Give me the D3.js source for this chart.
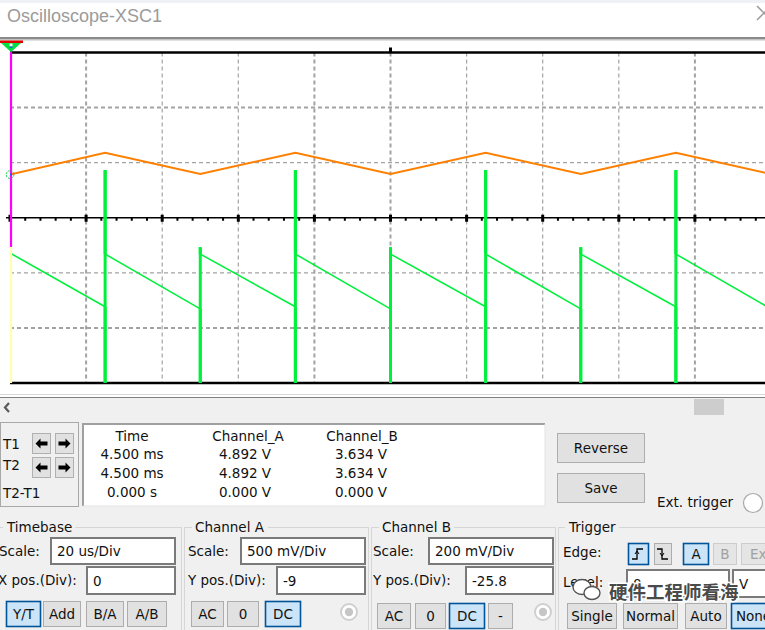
<!DOCTYPE html>
<html>
<head>
<meta charset="utf-8">
<script src="https://cdn.jsdelivr.net/npm/d3@7"></script>
<style>
  body { margin: 0; background: #fff; }
  svg { display: block; }
  text { font-family: "DejaVu Sans", sans-serif; font-size: 13.5px; fill: #111; }
</style>
</head>
<body>
<div id="scope"></div>
<script>
// channel A (orange triangle), time in us, volts
const chATime = [0, 25, 50, 75, 100, 125, 150, 175, 200];
const chAVolt = [4.892, 5.090, 4.897, 5.090, 4.897, 5.090, 4.897, 5.090, 4.897];

// channel B (green sawtooth with edge spikes)
const chBTime = [0,
  25, 25, 25, 25,
  50, 50, 50, 50,
  75, 75, 75, 75,
  100, 100, 100, 100,
  125, 125, 125, 125,
  150, 150, 150, 150,
  175, 175, 175, 175,
  200];
const chBVolt = [5.032,
  4.837, 4.40, 5.333, 5.028,
  4.829, 4.40, 5.053, 5.028,
  4.837, 4.40, 5.333, 5.028,
  4.829, 4.40, 5.053, 5.028,
  4.837, 4.40, 5.333, 5.028,
  4.829, 4.40, 5.053, 5.028,
  4.837, 4.40, 5.333, 5.028,
  4.829];

// readout table
const readHeaders = ["Time", "Channel_A", "Channel_B"];
const readRows = [
  ["4.500 ms", "4.892 V", "3.634 V"],
  ["4.500 ms", "4.892 V", "3.634 V"],
  ["0.000 s", "0.000 V", "0.000 V"]
];
const cursorLabels = ["T1", "T2", "T2-T1"];

// control settings
const timebaseScale = "20 us/Div";
const timebaseXPos = "0";
const chAScale = "500 mV/Div";
const chAYPos = "-9";
const chBScale = "200 mV/Div";
const chBYPos = "-25.8";
const trigLevel = "0";
const trigUnit = "V";

const W = 765, H = 630;
const svg = d3.select('#scope').append('svg')
  .attr('width', W).attr('height', H);

// ---------- title bar ----------
svg.append('rect').attr('width', W).attr('height', 3).attr('fill', '#eef1f5');
svg.append('text').attr('x', 7).attr('y', 22)
  .style('font-family', '"Liberation Sans", sans-serif').style('font-size', '18px')
  .style('fill', '#9b9b9b').text('Oscilloscope-XSC1');
svg.append('path').attr('d', 'M757,6 L771,20 M757,20 L771,6')
  .attr('stroke', '#9a9a9a').attr('stroke-width', 1.5);
svg.append('rect').attr('x', 0).attr('y', 37).attr('width', W).attr('height', 2).attr('fill', '#8a8a8a');
svg.append('rect').attr('x', 0).attr('y', 39).attr('width', W).attr('height', 1.5).attr('fill', '#c4c4c4');

// ---------- scope screen ----------
const x = d3.scaleLinear().domain([0, 200]).range([10, 771]);
const yA = d3.scaleLinear().domain([3.0, 6.0]).range([383, 52.5]);
const yB = d3.scaleLinear().domain([4.56, 5.76]).range([383, 52.5]);

const scr = svg.append('g');
scr.append('defs').append('clipPath').attr('id', 'clip')
  .append('rect').attr('x', 10).attr('y', 52.5).attr('width', 761).attr('height', 330.5);

const thickCols = [20, 80, 100, 180];
x.ticks(10).filter(t => t > 0).forEach(t => {
  scr.append('line')
    .attr('x1', x(t)).attr('x2', x(t)).attr('y1', 52.5).attr('y2', 383)
    .attr('stroke', '#a3a3a3')
    .attr('stroke-width', thickCols.includes(t) ? 2 : 1.2)
    .attr('stroke-dasharray', '4,3');
});
const thickRows = [5.5, 3.5];
yA.ticks(6).filter(v => v > 3 && v < 6 && v !== 4.5).forEach(v => {
  scr.append('line')
    .attr('x1', 10).attr('x2', W).attr('y1', yA(v)).attr('y2', yA(v))
    .attr('stroke', '#a3a3a3')
    .attr('stroke-width', thickRows.includes(v) ? 2 : 1.2)
    .attr('stroke-dasharray', '4,3');
});

// frame and center axis
scr.append('line').attr('x1', 10).attr('x2', W).attr('y1', 52.5).attr('y2', 52.5)
  .attr('stroke', '#000').attr('stroke-width', 2.5);
scr.append('line').attr('x1', 10).attr('x2', W).attr('y1', 383).attr('y2', 383)
  .attr('stroke', '#000').attr('stroke-width', 2.5);
scr.append('line').attr('x1', 6).attr('x2', W).attr('y1', yA(4.5)).attr('y2', yA(4.5))
  .attr('stroke', '#000').attr('stroke-width', 1.6);
scr.append('rect').attr('x', x(100) - 1.5).attr('y', 47.5).attr('width', 3).attr('height', 5).attr('fill', '#000');

d3.range(0, 201, 4).forEach(t => {
  const major = t % 20 === 0;
  scr.append('rect')
    .attr('x', x(t) - (major ? 1.5 : 1))
    .attr('y', major ? yA(4.5) - 3 : yA(4.5))
    .attr('width', major ? 3 : 2)
    .attr('height', major ? 7 : 3)
    .attr('fill', '#000');
});

// traces
const plot = scr.append('g').attr('clip-path', 'url(#clip)');
const ptsA = chATime.map((t, i) => [x(t), yA(chAVolt[i])]);
plot.append('path').attr('d', d3.line()(ptsA))
  .attr('fill', 'none').attr('stroke', '#ff8000').attr('stroke-width', 2);

const ptsB = chBTime.map((t, i) => [x(t), yB(chBVolt[i])]);
plot.append('path').attr('d', d3.line()(ptsB))
  .attr('fill', 'none').attr('stroke', '#00f03c').attr('stroke-width', 1.6);
// vertical edges drawn heavier
ptsB.forEach((p, i) => {
  if (i > 0 && chBTime[i] === chBTime[i - 1]) {
    plot.append('line')
      .attr('x1', p[0]).attr('x2', p[0]).attr('y1', ptsB[i - 1][1]).attr('y2', p[1])
      .attr('stroke', '#00f03c').attr('stroke-width', 3);
  }
});

// cursors and markers
scr.append('line').attr('x1', 11).attr('x2', 11).attr('y1', 52).attr('y2', 247)
  .attr('stroke', '#ff00ff').attr('stroke-width', 2.2);
scr.append('line').attr('x1', 11).attr('x2', 11).attr('y1', 247).attr('y2', 383)
  .attr('stroke', '#ffffb0').attr('stroke-width', 2.2);
scr.append('rect').attr('x', 0).attr('y', 40.5).attr('width', 23).attr('height', 2.5).attr('fill', '#e00000');
scr.append('path').attr('d', 'M1,43 L21,43 L11,52 Z').attr('fill', '#00e040');
scr.append('rect').attr('x', 9.5).attr('y', 43.5).attr('width', 3).attr('height', 3).attr('fill', '#fff');
scr.append('rect').attr('x', 9.5).attr('y', 46.5).attr('width', 3).attr('height', 1.2).attr('fill', '#2040ff');
scr.append('circle').attr('cx', 10).attr('cy', yA(chAVolt[0])).attr('r', 3.8)
  .attr('fill', 'none').attr('stroke', '#00d040').attr('stroke-width', 1).attr('stroke-dasharray', '2,1');
scr.append('rect').attr('x', 10).attr('y', yA(chAVolt[0]) - 1).attr('width', 2).attr('height', 2).attr('fill', '#2060ff');

// ---------- lower panel ----------
svg.append('line').attr('x1', 0).attr('x2', W).attr('y1', 394.5).attr('y2', 394.5)
  .attr('stroke', '#d8d8d8');
svg.append('rect').attr('x', 0).attr('y', 397).attr('width', W).attr('height', H - 397).attr('fill', '#f0f0f0');
svg.append('line').attr('x1', 0).attr('x2', W).attr('y1', 397.5).attr('y2', 397.5)
  .attr('stroke', '#808080');
svg.append('path').attr('d', 'M9,403 L5,407.5 L9,412').attr('fill', 'none')
  .attr('stroke', '#5a5a5a').attr('stroke-width', 2.2);
svg.append('rect').attr('x', 694).attr('y', 399).attr('width', 30).attr('height', 16).attr('fill', '#cdcdcd');

// cursor panel
svg.append('rect').attr('x', 0.5).attr('y', 422.5).attr('width', 78).attr('height', 84)
  .attr('fill', 'none').attr('stroke', '#a8a8a8');
cursorLabels.forEach((l, i) => {
  svg.append('text').attr('x', 3).attr('y', [449, 470, 498][i]).text(l);
});
function arrowBtn(bx, by, dir) {
  svg.append('rect').attr('x', bx + 0.5).attr('y', by + 0.5).attr('width', 18).attr('height', 20)
    .attr('fill', '#e1e1e1').attr('stroke', '#b0b0b0');
  const cx = bx + 9.5, cy = by + 10.5, s = dir;
  const pts = [[-6, 0], [-1, -5], [-1, -2], [6, -2], [6, 2], [-1, 2], [-1, 5]]
    .map(p => [cx + p[0] * s, cy + p[1]]);
  svg.append('path').attr('d', d3.line()(pts) + 'Z').attr('fill', '#000');
}
arrowBtn(32, 433, 1); arrowBtn(55, 433, -1);
arrowBtn(32, 457, 1); arrowBtn(55, 457, -1);

// readout box
svg.append('rect').attr('x', 82).attr('y', 423).attr('width', 463).attr('height', 83).attr('fill', '#fff');
svg.append('path').attr('d', 'M83,506 V424 H545').attr('fill', 'none').attr('stroke', '#a0a0a0').attr('stroke-width', 2);
svg.append('path').attr('d', 'M545,424 V506 H83').attr('fill', 'none').attr('stroke', '#e3e3e3').attr('stroke-width', 1);
const colX = [132, 248, 362];
readHeaders.forEach((h, i) => {
  svg.append('text').attr('x', colX[i]).attr('y', 441).attr('text-anchor', 'middle').text(h);
});
const valX = [132, 245, 361];
readRows.forEach((row, r) => {
  row.forEach((v, i) => {
    svg.append('text').attr('x', valX[i]).attr('y', [459, 478, 497][r])
      .attr('text-anchor', 'middle').text(v);
  });
});

function button(bx, by, w, h, label, state) {
  const fill = state === 'on' ? '#cce4f7' : (state === 'off' ? '#e5e5e5' : '#e1e1e1');
  const stroke = state === 'on' ? '#005499' : (state === 'off' ? '#cccccc' : '#adadad');
  svg.append('rect').attr('x', bx + 0.5).attr('y', by + 0.5).attr('width', w - 1).attr('height', h - 1)
    .attr('fill', fill).attr('stroke', stroke).attr('stroke-width', state === 'on' ? 1.6 : 1);
  if (label) {
    svg.append('text').attr('x', bx + w / 2).attr('y', by + h / 2 + 5)
      .attr('text-anchor', 'middle').style('fill', state === 'off' ? '#a0a0a0' : '#111').text(label);
  }
}
function input(bx, by, w, h, val) {
  svg.append('rect').attr('x', bx + 1).attr('y', by + 1).attr('width', w - 2).attr('height', h - 2)
    .attr('fill', '#fff').attr('stroke', '#7a7a7a').attr('stroke-width', 2);
  svg.append('text').attr('x', bx + 7).attr('y', by + h / 2 + 5).text(val);
}
function radio(cx, cy) {
  svg.append('circle').attr('cx', cx).attr('cy', cy).attr('r', 8)
    .attr('fill', '#fff').attr('stroke', '#cfcfcf').attr('stroke-width', 2);
  svg.append('circle').attr('cx', cx).attr('cy', cy).attr('r', 4.2).attr('fill', '#c6c6c6');
}
function group(gx, w, label) {
  svg.append('rect').attr('x', gx + 0.5).attr('y', 527.5).attr('width', w).attr('height', 120)
    .attr('fill', 'none').attr('stroke', '#d6d6d6');
  const t = svg.append('text').attr('x', gx + 11).attr('y', 532).text(label);
  const bb = t.node().getBBox();
  svg.insert('rect', () => t.node()).attr('x', bb.x - 3).attr('y', 524).attr('width', bb.width + 6).attr('height', 8)
    .attr('fill', '#f0f0f0');
}

button(557, 433, 88, 30, 'Reverse', 'norm');
button(557, 473, 88, 30, 'Save', 'norm');
svg.append('text').attr('x', 657).attr('y', 507).text('Ext. trigger');
svg.append('circle').attr('cx', 753).attr('cy', 503).attr('r', 9.5)
  .attr('fill', '#fff').attr('stroke', '#a8a8a8').attr('stroke-width', 1.2);

// Timebase
group(-4, 185, 'Timebase');
svg.append('text').attr('x', -1).attr('y', 556).text('Scale:');
input(50, 537, 126, 28, timebaseScale);
svg.append('text').attr('x', -2).attr('y', 585).text('X pos.(Div):');
input(86, 566, 90, 29, timebaseXPos);
button(6, 601, 35, 26, 'Y/T', 'on');
button(43, 601, 38, 26, 'Add', 'norm');
button(86, 601, 38, 26, 'B/A', 'norm');
button(127, 601, 40, 26, 'A/B', 'norm');

// Channel A
group(184, 184, 'Channel A');
svg.append('text').attr('x', 188).attr('y', 556).text('Scale:');
input(240, 537, 126, 28, chAScale);
svg.append('text').attr('x', 188).attr('y', 585).text('Y pos.(Div):');
input(276, 566, 90, 29, chAYPos);
button(191, 601, 33, 26, 'AC', 'norm');
button(227, 601, 32, 26, '0', 'norm');
button(265, 601, 36, 26, 'DC', 'on');
radio(349, 612);

// Channel B
group(371, 184, 'Channel B');
svg.append('text').attr('x', 373).attr('y', 556).text('Scale:');
input(428, 537, 126, 28, chBScale);
svg.append('text').attr('x', 373).attr('y', 585).text('Y pos.(Div):');
input(465, 566, 89, 29, chBYPos);
button(377, 603, 34, 26, 'AC', 'norm');
button(415, 603, 31, 26, '0', 'norm');
button(449, 603, 36, 26, 'DC', 'on');
button(488, 603, 25, 26, '-', 'norm');
radio(543, 612);

// Trigger
group(558, 215, 'Trigger');
svg.append('text').attr('x', 563).attr('y', 557).text('Edge:');
button(628, 543, 21, 22, '', 'on');
svg.append('path').attr('d', 'M632,559 h5 v-10 h6').attr('fill', 'none').attr('stroke', '#000').attr('stroke-width', 1.3);
svg.append('path').attr('d', 'M635,554 l2,-3 l2,3').attr('fill', 'none').attr('stroke', '#000').attr('stroke-width', 1);
button(654, 543, 18, 22, '', 'norm');
svg.append('path').attr('d', 'M657,549 h5 v10 h6').attr('fill', 'none').attr('stroke', '#000').attr('stroke-width', 1.3);
svg.append('path').attr('d', 'M660,553 l2,3 l2,-3').attr('fill', 'none').attr('stroke', '#000').attr('stroke-width', 1);
button(683, 543, 26, 22, 'A', 'on');
button(713, 543, 24, 22, 'B', 'off');
button(741, 543, 40, 22, 'Ext', 'off');
svg.append('text').attr('x', 563).attr('y', 587).text('Level:');
input(626, 569, 104, 29, trigLevel);
input(732, 569, 45, 29, trigUnit);
button(567, 603, 50, 26, 'Single', 'norm');
button(623, 603, 55, 26, 'Normal', 'norm');
button(685, 603, 42, 26, 'Auto', 'norm');
button(731, 603, 45, 26, 'None', 'on');

// watermark
const wm = svg.append('g');
wm.append('ellipse').attr('cx', 582).attr('cy', 587).attr('rx', 9).attr('ry', 7.5)
  .attr('fill', '#fff').attr('stroke', '#555').attr('stroke-width', 1.4);
wm.append('ellipse').attr('cx', 592).attr('cy', 593).attr('rx', 8).attr('ry', 6.5)
  .attr('fill', '#fff').attr('stroke', '#555').attr('stroke-width', 1.4);
wm.append('text').attr('x', 609).attr('y', 599)
  .style('font-family', '"Noto Sans CJK SC", sans-serif').style('font-size', '18.5px')
  .style('fill', '#4a4a4a').style('stroke', '#fff').style('stroke-width', '3px')
  .style('paint-order', 'stroke').style('font-weight', 'bold')
  .text('硬件工程师看海');
</script>
</body>
</html>
